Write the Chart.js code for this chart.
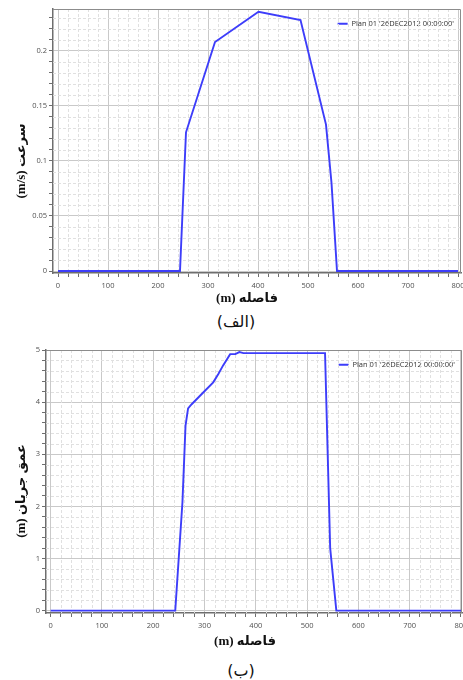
<!DOCTYPE html>
<html>
<head>
<meta charset="utf-8">
<script src="https://cdn.jsdelivr.net/npm/chart.js@4.4.1/dist/chart.umd.min.js"></script>
<style>
  html, body { margin: 0; padding: 0; background: #fff; overflow: hidden; }
  body { position: relative; width: 463px; height: 680px; }
  canvas { position: absolute; left: 0; }
  #velocityChart { top: 0; }
  #depthChart { top: 340px; }
  .caption {
    position: absolute; width: 80px; line-height: 20px; text-align: center;
    font: 16px "DejaVu Sans", sans-serif; color: #111; direction: rtl;
  }
</style>
</head>
<body>
<canvas id="velocityChart" width="475" height="310"></canvas>
<div class="caption" style="left:196px; top:312px;">(الف)</div>
<canvas id="depthChart" width="475" height="310"></canvas>
<div class="caption" style="left:201px; top:661px;">(ب)</div>

<script>
const seriesLabel = "Plan 01 '26DEC2012 00:00:00'";
const xTitle = "فاصله (m)";
const velocityTitle = "سرعت (m/s)";
const depthTitle = "عمق جریان (m)";

// velocity along the section
const velocityStation = [0, 244, 256, 314, 401, 485, 536, 547, 558, 800];
const velocityValues = [0, 0, 0.126, 0.208, 0.2355, 0.228, 0.133, 0.080, 0, 0];

// flow depth along the section
const depthStation = [0, 243, 257, 263, 268, 275, 298, 317, 327, 336, 350, 360, 368, 376, 535, 545, 557, 800];
const depthValues = [0, 0, 2.08, 3.55, 3.88, 3.96, 4.19, 4.38, 4.54, 4.70, 4.92, 4.92, 4.96, 4.94, 4.94, 1.2, 0, 0];

const isMajor = (v, step) => Math.abs(v / step - Math.round(v / step)) < 1e-6;

// dashed lines on the minor ticks
const minorGrid = {
  id: "minorGrid",
  beforeDatasetsDraw(chart, args, opts) {
    const { ctx, chartArea: area } = chart;
    ctx.save();
    ctx.strokeStyle = opts.color;
    ctx.lineWidth = 1;
    ctx.setLineDash([3, 2]);
    [["x", opts.majorX], ["y", opts.majorY]].forEach(([id, step]) => {
      const scale = chart.scales[id];
      scale.ticks.forEach((t) => {
        if (isMajor(t.value, step)) return;
        const p = Math.round(scale.getPixelForValue(t.value)) + 0.5;
        ctx.beginPath();
        if (id === "x") {
          ctx.moveTo(p, area.top);
          ctx.lineTo(p, area.bottom);
        } else {
          ctx.moveTo(area.left, p);
          ctx.lineTo(area.right, p);
        }
        ctx.stroke();
      });
    });
    ctx.restore();
  },
};

// top and right edges of the plot box
const frame = {
  id: "frame",
  beforeDatasetsDraw(chart) {
    const { ctx, chartArea: a } = chart;
    ctx.save();
    ctx.strokeStyle = "#8c8c8c";
    ctx.lineWidth = 1;
    ctx.beginPath();
    ctx.moveTo(a.left, Math.round(a.top) + 0.5);
    ctx.lineTo(Math.round(a.right) - 0.5, Math.round(a.top) + 0.5);
    ctx.lineTo(Math.round(a.right) - 0.5, a.bottom);
    ctx.stroke();
    ctx.restore();
  },
};

// keep the legend in the top right corner of the plot
const legendCorner = {
  id: "legendCorner",
  afterLayout(chart) {
    const lg = chart.legend;
    const a = chart.chartArea;
    const pad = lg.options.labels.padding;
    const w = lg.width;
    const h = lg.height;
    lg.right = a.right - 8 + pad;
    lg.left = lg.right - w;
    lg.top = a.top;
    lg.bottom = a.top + h;
  },
};

// persian axis titles, right-to-left
const axisTitles = {
  id: "axisTitles",
  afterDraw(chart, args, opts) {
    const { ctx } = chart;
    ctx.save();
    ctx.font = 'bold 13px "Liberation Serif", "DejaVu Sans", serif';
    ctx.fillStyle = "#111";
    ctx.direction = "rtl";
    ctx.textAlign = "center";
    ctx.textBaseline = "middle";
    ctx.fillText(opts.x.text, opts.x.cx, opts.x.cy);
    ctx.translate(opts.y.cx, opts.y.cy);
    ctx.rotate(-Math.PI / 2);
    ctx.fillText(opts.y.text, 0, 0);
    ctx.restore();
  },
};

function axis(min, max, minor, major, size, horizontal) {
  return {
    type: "linear",
    min,
    max,
    border: { color: "#6e6e6e", width: 1.5 },
    grid: {
      color: (c) => (c.tick && isMajor(c.tick.value, major) ? "#c9c9c9" : "rgba(0,0,0,0)"),
      tickColor: "#6e6e6e",
      tickLength: 4,
    },
    ticks: {
      stepSize: minor,
      includeBounds: false,
      autoSkip: false,
      maxRotation: 0,
      minRotation: 0,
      padding: horizontal ? 4 : 2,
      color: "#505050",
      font: { family: "Open Sans", size: 7.5 },
      callback: (v) => (isMajor(v, major) ? String(+v.toFixed(3)) : ""),
    },
    afterFit: (s) => {
      if (horizontal) s.height = size;
      else s.width = size;
    },
  };
}

function makeChart(id, stations, values, cfg) {
  return new Chart(document.getElementById(id), {
    type: "line",
    data: {
      datasets: [
        {
          label: seriesLabel,
          data: stations.map((x, i) => ({ x, y: values[i] })),
          borderColor: "#3d3dfa",
          borderWidth: 1.9,
          pointRadius: 0,
          tension: 0,
          fill: false,
        },
      ],
    },
    options: {
      responsive: false,
      animation: false,
      layout: { padding: cfg.padding },
      scales: {
        x: axis(cfg.xMin, cfg.xMax, 20, 100, cfg.xHeight, true),
        y: axis(cfg.yMin, cfg.yMax, cfg.yMinor, cfg.yMajor, cfg.yWidth, false),
      },
      plugins: {
        tooltip: { enabled: false },
        legend: {
          position: "chartArea",
          align: "start",
          labels: {
            usePointStyle: true,
            pointStyle: "line",
            pointStyleWidth: 10,
            padding: 11,
            color: "#333",
            font: { family: "Open Sans", size: 7.5 },
          },
        },
        minorGrid: { color: "#e0e0e0", majorX: 100, majorY: cfg.yMajor },
        axisTitles: cfg.titles,
      },
    },
    plugins: [minorGrid, frame, legendCorner, axisTitles],
  });
}

makeChart("velocityChart", velocityStation, velocityValues, {
  padding: { top: 9, left: 0, right: 14, bottom: 0 },
  xMin: -10, xMax: 806, xHeight: 37,
  yMin: -0.0018, yMax: 0.238, yMinor: 0.01, yMajor: 0.05, yWidth: 53,
  titles: {
    x: { text: xTitle, cx: 247, cy: 299 },
    y: { text: velocityTitle, cx: 22, cy: 161 },
  },
});

makeChart("depthChart", depthStation, depthValues, {
  padding: { top: 10, left: 0, right: 13, bottom: 0 },
  xMin: -9, xMax: 802, xHeight: 37,
  yMin: -0.045, yMax: 5, yMinor: 0.2, yMajor: 1, yWidth: 46,
  titles: {
    x: { text: xTitle, cx: 245, cy: 302 },
    y: { text: depthTitle, cx: 22, cy: 151 },
  },
});
</script>
</body>
</html>
